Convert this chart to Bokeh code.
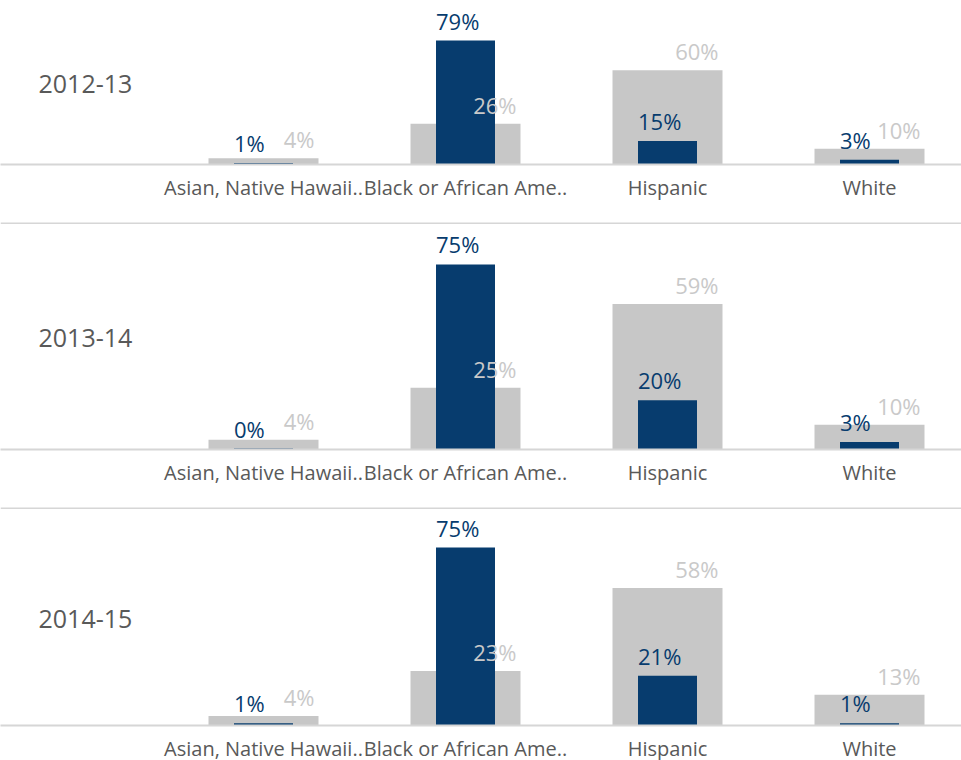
from bokeh.plotting import figure
from bokeh.models import ColumnDataSource, FixedTicker, Range1d, Span, Label
from bokeh.layouts import column
from bokeh.core.properties import value
from bokeh.embed import file_html
from bokeh.resources import INLINE

# ---------------- data ----------------
categories = ["Asian, Native Hawaii..", "Black or African Ame..", "Hispanic", "White"]
years = ["2012-13", "2013-14", "2014-15"]

# navy series (foreground bars)
navy_2012_13 = [1, 79, 15, 3]
navy_2013_14 = [0.4, 75, 20, 3]
navy_2014_15 = [1, 75, 21, 1]

# gray series (background bars)
gray_2012_13 = [4, 26, 60, 10]
gray_2013_14 = [4, 25, 59, 10]
gray_2014_15 = [4, 23, 58, 13]

navy_series = [navy_2012_13, navy_2013_14, navy_2014_15]
gray_series = [gray_2012_13, gray_2013_14, gray_2014_15]

# ---------------- styling / layout ----------------
NAVY = "#073c6e"
GRAY = "#c7c7c7"
GRAY_TXT = "#c9c9c9"
TEXT = "#595959"
LINE = "#d6d6d6"
FONT = "Open Sans"

PX_PER_CAT = 202.0
FIG_W = 961
X_START = -263.0 / PX_PER_CAT
X_END = X_START + FIG_W / PX_PER_CAT
GRAY_W = 110 / PX_PER_CAT
NAVY_W = 59 / PX_PER_CAT

# (frame height, y max, bottom border)
panels = [(164, 104.5, 58), (227, 92.0, 58), (218, 91.9, 35)]

xs = list(range(len(categories)))
figs = []
for k, (year, navy, gray) in enumerate(zip(years, navy_series, gray_series)):
    fh, ymax, bb = panels[k]
    p = figure(frame_width=FIG_W, frame_height=fh, output_backend="svg",
               toolbar_location=None, x_range=Range1d(X_START, X_END),
               y_range=Range1d(0, ymax), min_border_left=0, min_border_right=0,
               min_border_top=0, min_border_bottom=bb)
    p.outline_line_color = None
    p.grid.visible = False
    p.yaxis.visible = False
    p.background_fill_color = "white"
    p.border_fill_color = "white"

    src = ColumnDataSource(dict(
        x=xs,
        navy=navy,
        gray=gray,
        navy_lbl=[f"{v:.0f}%" for v in navy],
        gray_lbl=[f"{v:.0f}%" for v in gray],
        navy_lx=[i - NAVY_W / 2 for i in xs],
        gray_lx=[i + GRAY_W / 2 for i in xs],
    ))

    p.vbar(x="x", top="gray", bottom=0, width=GRAY_W, source=src,
           fill_color=GRAY, line_color=None)
    p.vbar(x="x", top="navy", bottom=0, width=NAVY_W, source=src,
           fill_color=NAVY, line_color=None)
    p.text(x="navy_lx", y="navy", text="navy_lbl", source=src,
           text_font=value(FONT), text_font_size="22px", text_color=NAVY,
           text_align="left", text_baseline="alphabetic", y_offset=-20)
    p.text(x="gray_lx", y="gray", text="gray_lbl", source=src,
           text_font=value(FONT), text_font_size="22px", text_color=GRAY_TXT,
           text_align="right", text_baseline="alphabetic", y_offset=-19, x_offset=-4)

    p.add_layout(Label(x=X_START + 38 / PX_PER_CAT, y=ymax * 0.49, text=year,
                       text_font=FONT, text_font_size="25px", text_color=TEXT,
                       text_baseline="middle", text_align="left"))

    if k > 0:
        p.add_layout(Span(location=ymax, dimension="width", line_color=LINE,
                          line_width=3))

    ax = p.xaxis[0]
    ax.ticker = FixedTicker(ticks=xs)
    ax.major_label_overrides = {i: c for i, c in enumerate(categories)}
    ax.major_tick_line_color = None
    ax.minor_tick_line_color = None
    ax.axis_line_color = LINE
    ax.axis_line_width = 2
    ax.major_label_text_font = FONT
    ax.major_label_text_font_size = "20px"
    ax.major_label_text_color = TEXT
    ax.major_label_standoff = 3
    figs.append(p)

layout = column(*figs, spacing=0)
open("out.html", "w").write(file_html(layout, INLINE))
